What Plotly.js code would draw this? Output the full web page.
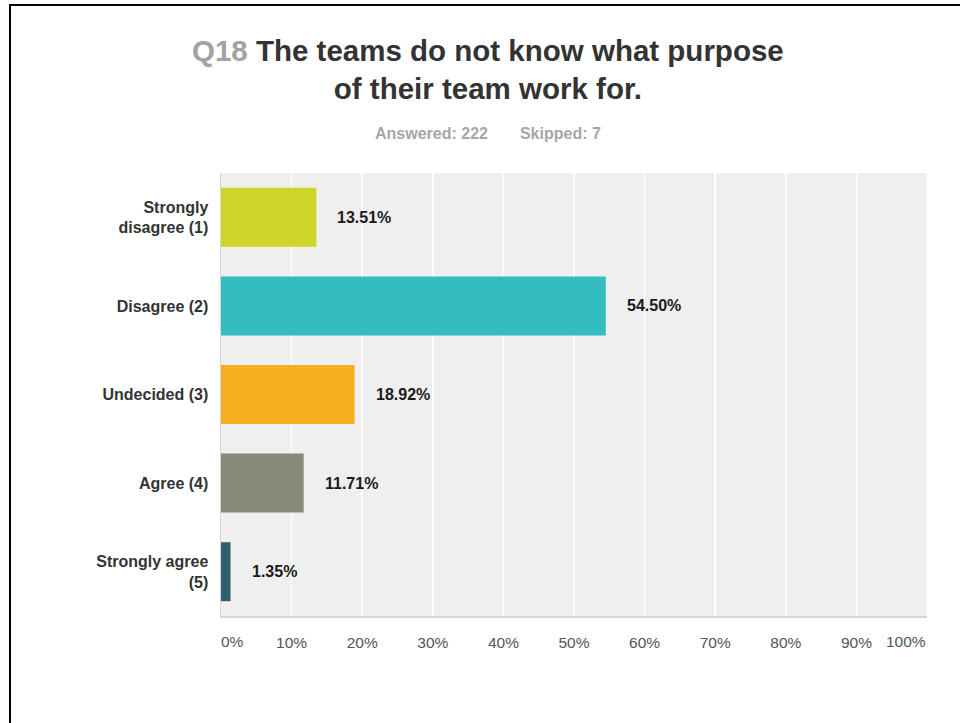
<!DOCTYPE html>
<html>
<head>
<meta charset="utf-8">
<script src="https://cdn.plot.ly/plotly-3.0.1.min.js"></script>
<style>
  html, body { margin: 0; padding: 0; background: #fff; }
  #chart { position: absolute; left: 0; top: 0; width: 960px; height: 723px; }
  /* frame that runs along the left and top of the figure */
  #frame { position: absolute; left: 9px; top: 4px; right: -10px; bottom: -10px;
           border-left: 2px solid #000; border-top: 2px solid #000; pointer-events: none; }
</style>
</head>
<body>
<div id="chart"></div>
<div id="frame"></div>
<script>
// Survey answers, Q18
const categories = ["Strongly<br>disagree (1)", "Disagree (2)", "Undecided (3)", "Agree (4)", "Strongly agree<br>(5)"];
const percents = [13.51, 54.50, 18.92, 11.71, 1.35];
const barColors = ["#cfd42a", "#33bdbf", "#f6ae20", "#8a8a7a", "#2e5f6e"];
const tickValues = [0, 10, 20, 30, 40, 50, 60, 70, 80, 90, 100];
const answered = 222;
const skipped = 7;

const FONT = "Liberation Sans, Arial, Helvetica, sans-serif";

const trace = {
  type: "bar",
  orientation: "h",
  x: percents,
  y: categories,
  marker: { color: barColors, line: { width: 0 } },
  hoverinfo: "skip"
};

// value labels to the right of each bar
const valueNotes = percents.map((v, i) => ({
  x: v, y: categories[i], xref: "x", yref: "y",
  text: v.toFixed(2) + "%",
  showarrow: false, xanchor: "left", xshift: 19,
  font: { family: FONT, size: 16, color: "#1a1a1a", weight: "bold" }
}));

// end tick labels sit inside the plot edges
const endTicks = [
  { x: tickValues[0], xanchor: "left", shift: -2, text: tickValues[0] + "%" },
  { x: tickValues[tickValues.length - 1], xanchor: "right", shift: 1, text: tickValues[tickValues.length - 1] + "%" }
].map(t => ({
  x: t.x, y: 0, xref: "x", yref: "paper", yanchor: "middle", yshift: -25.5, xshift: t.shift,
  xanchor: t.xanchor, text: t.text, showarrow: false,
  font: { family: FONT, size: 15.5, color: "#555" }
}));

const headerNotes = [
  {
    xref: "paper", yref: "paper", x: (488 - 220.5) / 706.2, y: (616 - 70) / 443,
    xanchor: "center", yanchor: "middle", showarrow: false,
    text: "<span style='color:#a3a3a3'>Q18</span> The teams do not know what purpose<br>of their team work for.",
    font: { family: FONT, size: 29.5, color: "#333", weight: "bold" }
  },
  {
    xref: "paper", yref: "paper", x: (488 - 220.5) / 706.2, y: (616 - 133) / 443,
    xanchor: "center", yanchor: "middle", showarrow: false,
    text: "Answered: " + answered + "\u2003\u2003Skipped: " + skipped,
    font: { family: FONT, size: 16, color: "#a6a6a6", weight: "bold" }
  }
];

const layout = {
  width: 960, height: 723,
  margin: { l: 220.5, r: 33.3, t: 173, b: 107, pad: 0 },
  paper_bgcolor: "#ffffff",
  plot_bgcolor: "#efefef",
  showlegend: false,
  bargap: 0.334,
  font: { family: FONT },
  xaxis: {
    range: [0, 100], fixedrange: true,
    tickvals: tickValues,
    ticktext: tickValues.map((v, i) => (i === 0 || i === tickValues.length - 1) ? "" : v + "%"),
    showgrid: true, gridcolor: "#ffffff", gridwidth: 1.5,
    zeroline: false,
    showline: true, linecolor: "#d6d6d6", linewidth: 2,
    ticks: "", ticklabelstandoff: 11,
    tickfont: { family: FONT, size: 15.5, color: "#555" }
  },
  yaxis: {
    autorange: "reversed", fixedrange: true,
    showgrid: false, zeroline: false,
    showline: true, linecolor: "#d6d6d6", linewidth: 1.5,
    ticks: "", ticklabelstandoff: 8,
    tickfont: { family: FONT, size: 16, color: "#333", weight: "bold" }
  },
  annotations: valueNotes.concat(endTicks, headerNotes)
};

Plotly.newPlot("chart", [trace], layout, { displayModeBar: false, staticPlot: true });
</script>
</body>
</html>
